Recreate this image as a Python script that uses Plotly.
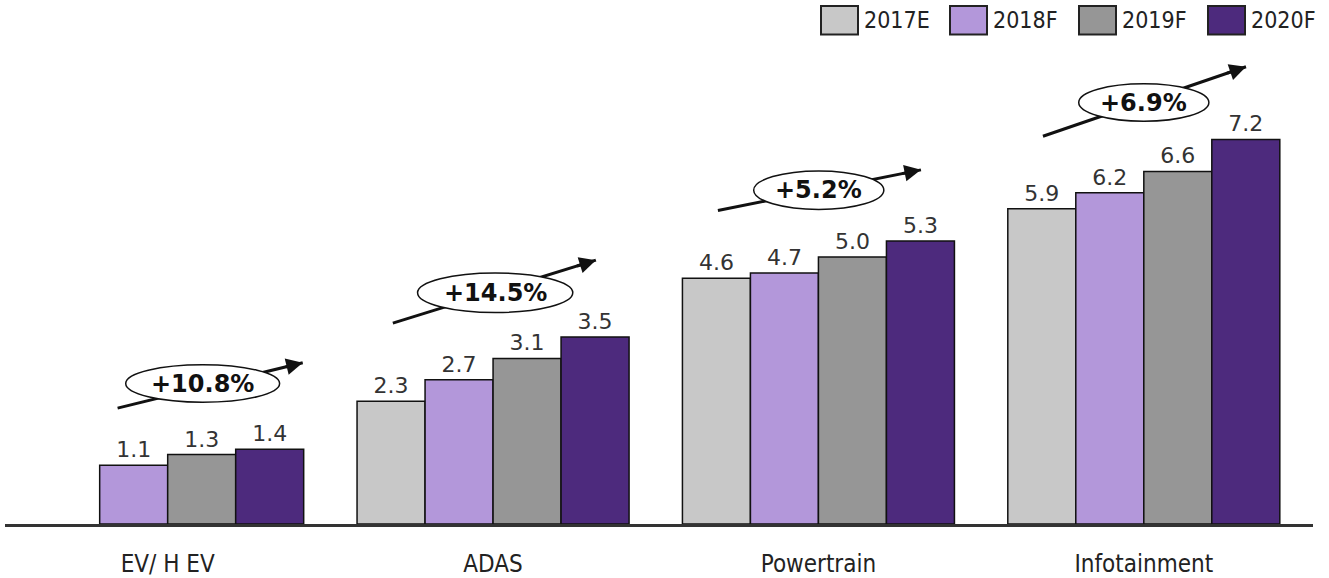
import plotly.graph_objects as go

# ---- data -------------------------------------------------------------
categories = ["EV/ H EV", "ADAS", "Powertrain", "Infotainment"]
series_names = ["2017E", "2018F", "2019F", "2020F"]
values_2017E = [None, 2.3, 4.6, 5.9]
values_2018F = [1.1, 2.7, 4.7, 6.2]
values_2019F = [1.3, 3.1, 5.0, 6.6]
values_2020F = [1.4, 3.5, 5.3, 7.2]
growth_labels = ["+10.8%", "+14.5%", "+5.2%", "+6.9%"]

series_values = [values_2017E, values_2018F, values_2019F, values_2020F]
colors = ["#C8C8C8", "#B397DA", "#969696", "#4D2A7D"]

W, H = 1329, 578
M_L, M_R, M_T, M_B = 5, 16, 0, 48
Y_MAX = 9.81

COND = "DejaVu Sans Condensed, Liberation Sans Narrow, DejaVu Sans, sans-serif"
BODY = "DejaVu Sans, Verdana, sans-serif"

fig = go.Figure()
for name, vals, col in zip(series_names, series_values, colors):
    fig.add_trace(go.Bar(
        x=categories, y=vals, name=name,
        marker=dict(color=col, line=dict(color="#111111", width=1.5)),
        texttemplate="%{y:.1f}", textposition="outside",
        textfont=dict(family=BODY, size=22, color="#333333"),
        cliponaxis=False, showlegend=False,
    ))

# ---- growth arrows with ellipse badges (data coordinates) -------------
# (x_start, y_start, x_end, y_end) and ellipse box (x0, x1, y0, y1)
arrow_geo = [
    (-0.154, 2.17, 0.415, 3.02),
    (0.692, 3.76, 1.316, 4.94),
    (1.691, 5.87, 2.315, 6.63),
    (2.690, 7.26, 3.314, 8.56),
]
ellipse_geo = [
    (-0.129, 0.344, 2.28, 2.98),
    (0.768, 1.245, 3.96, 4.70),
    (1.801, 2.201, 5.89, 6.61),
    (2.800, 3.200, 7.54, 8.24),
]

shapes = []
annotations = []
for (xs, ys, xe, ye), (ex0, ex1, ey0, ey1), lab in zip(arrow_geo, ellipse_geo, growth_labels):
    shapes.append(dict(type="line", xref="x", yref="y", x0=xs, y0=ys, x1=xe, y1=ye,
                       line=dict(color="#111111", width=3)))
    shapes.append(dict(type="circle", xref="x", yref="y", x0=ex0, x1=ex1, y0=ey0, y1=ey1,
                       fillcolor="white", line=dict(color="#111111", width=1.5)))
    t = 0.9
    annotations.append(dict(xref="x", yref="y", axref="x", ayref="y",
                            x=xe, y=ye, ax=xs + t * (xe - xs), ay=ys + t * (ye - ys),
                            showarrow=True, arrowhead=2, arrowsize=1.1, arrowwidth=3,
                            arrowcolor="#111111", text=""))
    annotations.append(dict(xref="x", yref="y", x=(ex0 + ex1) / 2, y=(ey0 + ey1) / 2,
                            text="<b>%s</b>" % lab, showarrow=False,
                            font=dict(family=BODY, size=24, color="#111111")))

# ---- legend drawn with square swatches ----------------------------------
pw = W - M_L - M_R
ph = H - M_T - M_B
def px_x(px):
    return (px - M_L) / pw
def px_y(py):
    return (H - M_B - py) / ph

leg_x0, leg_step, box_w, box_top, box_bot = 821, 129, 37, 6, 35
for i, (name, col) in enumerate(zip(series_names, colors)):
    bx = leg_x0 + i * leg_step
    shapes.append(dict(type="rect", xref="paper", yref="paper",
                       x0=px_x(bx), x1=px_x(bx + box_w), y0=px_y(box_bot), y1=px_y(box_top),
                       fillcolor=col, line=dict(color="#222222", width=2)))
    annotations.append(dict(xref="paper", yref="paper", x=px_x(bx + box_w + 4),
                            y=px_y((box_top + box_bot) / 2), xanchor="left", yanchor="middle",
                            text=name, showarrow=False,
                            font=dict(family=COND, size=23, color="#222222")))

fig.update_layout(
    width=W, height=H,
    margin=dict(l=M_L, r=M_R, t=M_T, b=M_B),
    paper_bgcolor="white", plot_bgcolor="white",
    barmode="group", bargap=0.164, bargroupgap=0,
    shapes=shapes, annotations=annotations,
    showlegend=False,
)
fig.update_xaxes(
    range=[-0.5, 3.52], showgrid=False, zeroline=False,
    showline=True, linecolor="#333333", linewidth=3,
    ticks="", ticklabelstandoff=16,
    tickfont=dict(family=COND, size=24, color="#222222"),
)
fig.update_yaxes(range=[0, Y_MAX], visible=False, showgrid=False, zeroline=False)

fig.write_html("out.html")
